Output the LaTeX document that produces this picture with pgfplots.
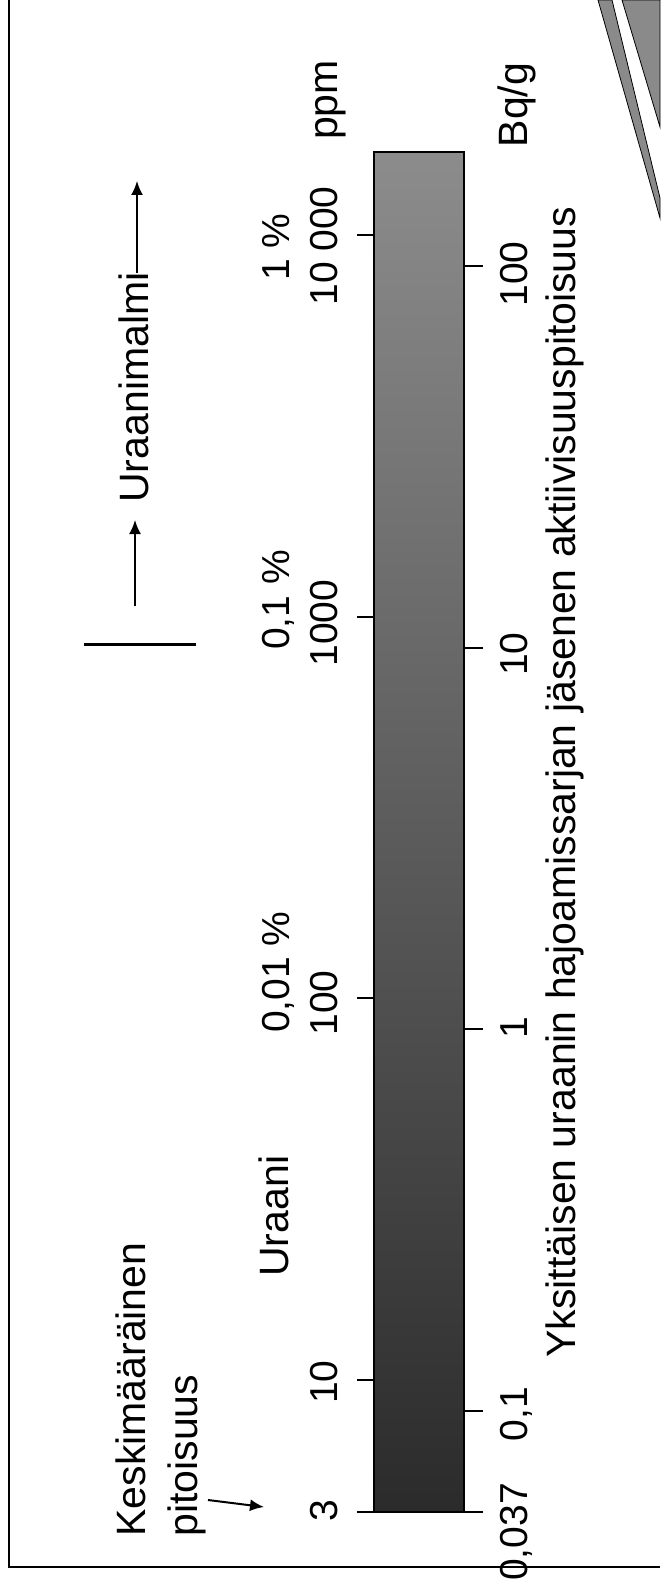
\documentclass[border=0pt]{standalone}
\usepackage{pgfplots}
\pgfplotsset{compat=1.18}
\usepackage{fontspec}
\setmainfont{Liberation Sans}
\usetikzlibrary{arrows.meta}
\definecolor{barbot}{HTML}{2B2B2B}
\definecolor{barmid}{HTML}{5A5A5A}
\definecolor{bartop}{HTML}{8C8C8C}
\definecolor{deco}{HTML}{8A8A8A}
\newcommand{\txt}{\fontsize{20.5pt}{24pt}\selectfont}
\newcommand{\num}{\fontsize{19.5pt}{23pt}\selectfont}
% common geometry: 1 px of the reference = 0.5pt
\pgfplotsset{pageaxis/.style={scale only axis, width=330pt, height=794.5pt,
  hide axis, clip=false, xmin=0, xmax=660, at={(0,0)}, anchor=south west}}
\begin{document}
\begin{tikzpicture}
% ---------- page layer (x, y in pixels, y downwards) ----------
\begin{axis}[pageaxis, ymin=0, ymax=1589, y dir=reverse]
  % frame
  \addplot[black, line width=1.25pt] coordinates {(9,0) (9,1567) (660,1567)};
  % decoration top right
  \addplot[fill=deco, draw=black, line width=0.4pt] coordinates {(598,0) (612,0) (660,198) (660,218)} -- cycle;
  \addplot[fill=deco, draw=black, line width=0.4pt] coordinates {(622,0) (660,0) (660,127)} -- cycle;
  % arrows
  \addplot[black, line width=1pt, -{Latex[length=7pt,width=6pt]}] coordinates {(208,1500) (264,1507)};
  \addplot[black, line width=1.5pt] coordinates {(84,644) (196,644)};
  \addplot[black, line width=1pt, -{Latex[length=7pt,width=6pt]}] coordinates {(135,606) (135,520)};
  \addplot[black, line width=1pt, -{Latex[length=7pt,width=6pt]}] coordinates {(137,273) (137,181)};
  % texts
  \node[rotate=90, anchor=base west, inner sep=0pt] at (axis cs:145,1537) {\txt Keskimääräinen};
  \node[rotate=90, anchor=base west, inner sep=0pt] at (axis cs:197,1537) {\txt pitoisuus};
  \node[rotate=90, anchor=base west, inner sep=0pt] at (axis cs:288,1277) {\txt Uraani};
  \node[rotate=90, anchor=base west, inner sep=0pt] at (axis cs:148,503) {\txt Uraanimalmi};
  \node[rotate=90, anchor=base west, inner sep=0pt] at (axis cs:575,1358) {\txt Yksittäisen uraanin hajoamissarjan jäsenen aktiivisuuspitoisuus};
  % unit labels
  \node[rotate=90, anchor=base, inner sep=0pt] at (axis cs:337,100) {\txt ppm};
  \node[rotate=90, anchor=base, inner sep=0pt] at (axis cs:527,105) {\txt Bq/g};
  % ppm tick labels
  \node[rotate=90, anchor=base, inner sep=0pt] at (axis cs:337,1511) {\num 3};
  \node[rotate=90, anchor=base, inner sep=0pt] at (axis cs:337,1382) {\num 10};
  \node[rotate=90, anchor=base, inner sep=0pt] at (axis cs:337,1003) {\num 100};
  \node[rotate=90, anchor=base, inner sep=0pt] at (axis cs:337,623) {\num 1000};
  \node[rotate=90, anchor=base, inner sep=0pt] at (axis cs:337,246) {\num 10 000};
  \node[rotate=90, anchor=base, inner sep=0pt] at (axis cs:289,972) {\num 0,01 \%};
  \node[rotate=90, anchor=base, inner sep=0pt] at (axis cs:289,600) {\num 0,1 \%};
  \node[rotate=90, anchor=base, inner sep=0pt] at (axis cs:289,247) {\num 1 \%};
  % Bq/g tick labels
  \node[rotate=90, anchor=base, inner sep=0pt] at (axis cs:527,1532) {\num 0,037};
  \node[rotate=90, anchor=base, inner sep=0pt] at (axis cs:527,1414) {\num 0,1};
  \node[rotate=90, anchor=base, inner sep=0pt] at (axis cs:527,1028) {\num 1};
  \node[rotate=90, anchor=base, inner sep=0pt] at (axis cs:527,654) {\num 10};
  \node[rotate=90, anchor=base, inner sep=0pt] at (axis cs:527,274) {\num 100};
\end{axis}
% ---------- uranium content, ppm (log) ----------
\begin{axis}[pageaxis, ymode=log, ymin=2.8343, ymax=41257]
  % bar: from the 3 ppm mark (drawn at the scale's 4.51 position) to ~16500 ppm
  \addplot[draw=black, line width=1pt, bottom color=barbot, middle color=barmid, top color=bartop]
    coordinates {(374,4.51) (464,4.51) (464,16490) (374,16490)} -- cycle;
  \addplot[black, line width=1pt] coordinates {(357,4.51) (374,4.51)};
  \pgfplotsinvokeforeach{10,100,1000,10000}{
    \addplot[black, line width=1pt] coordinates {(357,#1) (374,#1)};
  }
\end{axis}
% ---------- activity concentration, Bq/g (log) ----------
\begin{axis}[pageaxis, ymode=log, ymin=0.034190, ymax=497.67]
  \addplot[black, line width=1pt] coordinates {(464,0.0544) (483,0.0544)};
  \pgfplotsinvokeforeach{0.1,1,10,100}{
    \addplot[black, line width=1pt] coordinates {(464,#1) (483,#1)};
  }
\end{axis}
\pgfresetboundingbox
\path (0,0) rectangle (330pt,794.5pt);
\end{tikzpicture}
\end{document}
